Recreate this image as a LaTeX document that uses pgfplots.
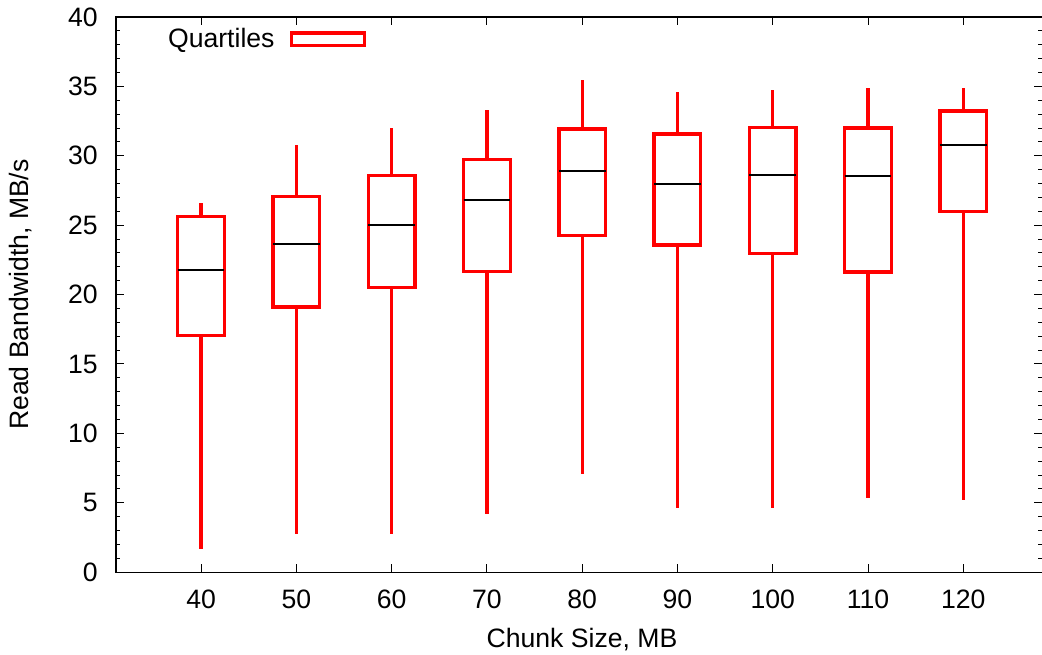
\documentclass[border=0pt]{standalone}
\usepackage{pgfplots}
\pgfplotsset{compat=1.18}
\usepgfplotslibrary{statistics}
\usepackage{fontspec}
\setmainfont{Liberation Sans}
\newcommand{\lbl}{\fontsize{13.3}{16}\selectfont}
\begin{document}
\begin{tikzpicture}
\path[use as bounding box] (-58pt,-41pt) rectangle (462.85pt,286pt);
\begin{axis}[
  at={(0,0)}, anchor=south west,
  width=463pt, height=277.5pt, scale only axis,
  xmin=31.076, xmax=128.29, ymin=0, ymax=40,
  xtick={40,50,60,70,80,90,100,110,120},
  ytick={0,5,10,15,20,25,30,35,40},
  minor y tick num=4,
  tick align=inside,
  major tick length=4pt, minor tick length=2pt,
  axis line style={line width=0.6pt},
  every tick/.style={black, line width=0.5pt},
  /pgf/number format/assume math mode=true,
  tick label style={font=\lbl},
  yticklabel style={inner sep=0pt, xshift=-9pt},
  xticklabel style={inner sep=0pt, yshift=-8.5pt},
  xlabel={Chunk Size, MB},
  ylabel={Read Bandwidth, MB/s},
  xlabel style={font=\lbl, at={(axis description cs:0.503,-0.1207)}, anchor=center},
  ylabel style={font=\lbl, at={(axis description cs:-0.1026,0.5)}, anchor=center},
  legend style={at={(axis description cs:0.0562,0.96)}, anchor=west, draw=none, fill=none,
    inner sep=0pt, outer sep=0pt, font=\lbl, nodes={inner sep=0pt}},
  legend plot pos=right,
  legend image code/.code={\path (0pt,0pt); \draw[red, line width=1.65pt] (7.5pt,-3.1pt) rectangle (44pt,3.1pt);},
  boxplot/draw direction=y,
  boxplot/box extend=4.9,
  boxplot/whisker extend=0,
  boxplot/every median/.style={black, line width=1pt},
  boxplot/every box/.style={red, line width=1.65pt},
  boxplot/every whisker/.style={red, line width=1.65pt},
]
\addplot[red, line width=1.65pt, boxplot prepared={draw position=40, lower whisker=1.64, lower quartile=17.03, median=21.77, upper quartile=25.61, upper whisker=26.62}] coordinates {};
\addlegendentry{Quartiles}
\addplot[red, line width=1.65pt, forget plot, boxplot prepared={draw position=50, lower whisker=2.72, lower quartile=19.10, median=23.62, upper quartile=27.06, upper whisker=30.79}] coordinates {};
\addplot[red, line width=1.65pt, forget plot, boxplot prepared={draw position=60, lower whisker=2.77, lower quartile=20.52, median=25.01, upper quartile=28.60, upper whisker=31.97}] coordinates {};
\addplot[red, line width=1.65pt, forget plot, boxplot prepared={draw position=70, lower whisker=4.16, lower quartile=21.67, median=26.80, upper quartile=29.75, upper whisker=33.31}] coordinates {};
\addplot[red, line width=1.65pt, forget plot, boxplot prepared={draw position=80, lower whisker=7.10, lower quartile=24.24, median=28.89, upper quartile=31.94, upper whisker=35.43}] coordinates {};
\addplot[red, line width=1.65pt, forget plot, boxplot prepared={draw position=90, lower whisker=4.64, lower quartile=23.57, median=27.99, upper quartile=31.58, upper whisker=34.59}] coordinates {};
\addplot[red, line width=1.65pt, forget plot, boxplot prepared={draw position=100, lower whisker=4.64, lower quartile=22.94, median=28.65, upper quartile=32.04, upper whisker=34.75}] coordinates {};
\addplot[red, line width=1.65pt, forget plot, boxplot prepared={draw position=110, lower whisker=5.37, lower quartile=21.62, median=28.53, upper quartile=32.01, upper whisker=34.90}] coordinates {};
\addplot[red, line width=1.65pt, forget plot, boxplot prepared={draw position=120, lower whisker=5.22, lower quartile=25.97, median=30.81, upper quartile=33.22, upper whisker=34.90}] coordinates {};
\end{axis}
\end{tikzpicture}
\end{document}
